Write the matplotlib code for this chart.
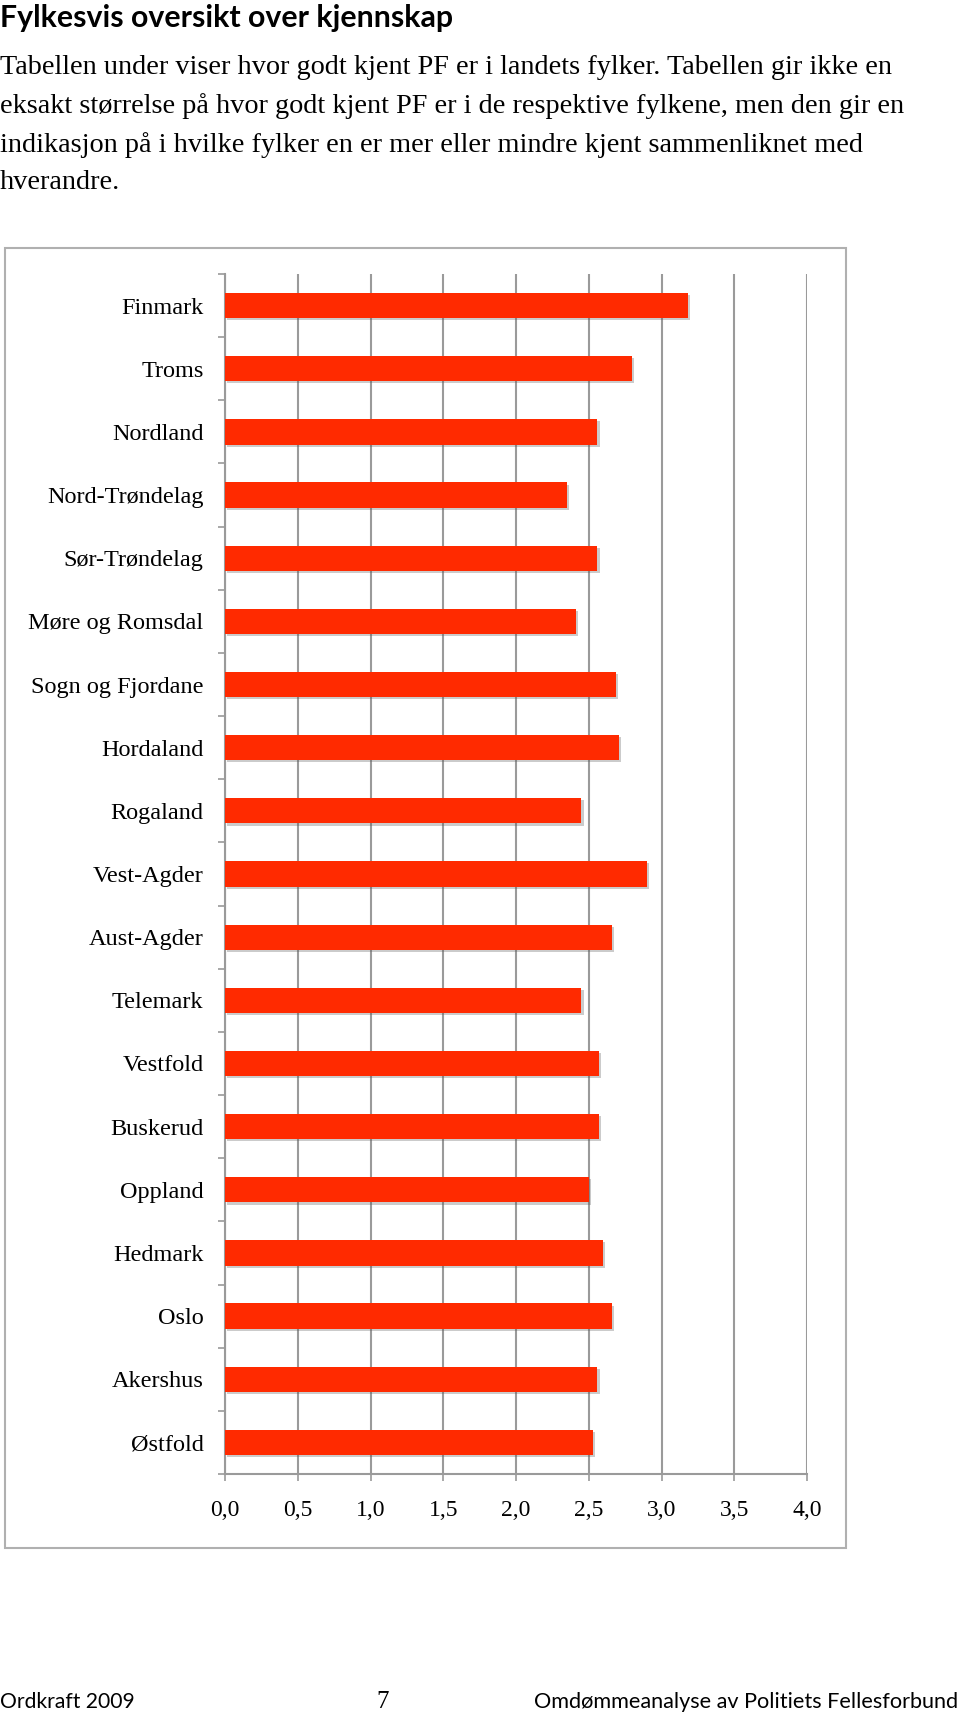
import numpy as np
import matplotlib
matplotlib.use("Agg")
from matplotlib import pyplot as plt
from matplotlib import patheffects
from matplotlib.patches import Rectangle

# data (top to bottom)
fylker = ["Finmark", "Troms", "Nordland", "Nord-Trøndelag", "Sør-Trøndelag",
          "Møre og Romsdal", "Sogn og Fjordane", "Hordaland", "Rogaland",
          "Vest-Agder", "Aust-Agder", "Telemark", "Vestfold", "Buskerud",
          "Oppland", "Hedmark", "Oslo", "Akershus", "Østfold"]
kjennskap = [3.18, 2.80, 2.56, 2.35, 2.56, 2.41, 2.69, 2.71, 2.45,
             2.90, 2.66, 2.45, 2.57, 2.57, 2.50, 2.60, 2.66, 2.56, 2.53]
xticks = [0.0, 0.5, 1.0, 1.5, 2.0, 2.5, 3.0, 3.5, 4.0]
xticklabels = ["0,0", "0,5", "1,0", "1,5", "2,0", "2,5", "3,0", "3,5", "4,0"]

title = "Fylkesvis oversikt over kjennskap"
paragraph = ["Tabellen under viser hvor godt kjent PF er i landets fylker. Tabellen gir ikke en",
             "eksakt størrelse på hvor godt kjent PF er i de respektive fylkene, men den gir en",
             "indikasjon på i hvilke fylker en er mer eller mindre kjent sammenliknet med",
             "hverandre."]

W, H = 960, 1714
serif = ["Liberation Serif", "DejaVu Serif"]
sans = ["Lato", "DejaVu Sans"]
grid_c = "#9a9a9a"
bar_c = "#ff2a00"

fig = plt.figure(figsize=(W / 100, H / 100), dpi=100)

def fx(px):
    return px / W

def fy(py):
    return 1 - py / H

# heading and text
fig.text(fx(0), fy(18), title, fontsize=21.8, fontweight="bold", family=sans,
         ha="left", va="center")
for i, line in enumerate(paragraph):
    fig.text(fx(0), fy(68 + i * 38.3), line, fontsize=20.3, family=serif,
             ha="left", va="center")

# frame round the chart
fig.patches.append(Rectangle((fx(5), fy(1548)), fx(841), 1300 / H,
                             transform=fig.transFigure, fill=False,
                             edgecolor="#b0b0b0", lw=1.5))

ax = fig.add_axes([fx(225), fy(1474), fx(807) - fx(225), (1474 - 274) / H])
y = np.arange(len(fylker))
bars = ax.barh(y, kjennskap, height=0.4, color=bar_c, zorder=3)
for b in bars:
    b.set_path_effects([patheffects.SimplePatchShadow(offset=(1.5, -1.5),
                                                      shadow_rgbFace="#555555",
                                                      alpha=0.3),
                        patheffects.Normal()])

ax.set_xlim(0, 4)
ax.set_ylim(len(fylker) - 0.5, -0.5)
ax.set_xticks(xticks)
ax.set_xticklabels(xticklabels, family=serif, fontsize=17)
ax.set_yticks(y)
ax.set_yticklabels(fylker, family=serif, fontsize=17.5)
ax.set_yticks(np.arange(-0.5, len(fylker)), minor=True)
ax.tick_params(axis="y", which="major", length=0, pad=15.5)
ax.tick_params(axis="y", which="minor", length=5, width=1.2, color=grid_c)
ax.tick_params(axis="x", length=5, width=1.2, color=grid_c, pad=14)
ax.grid(axis="x", color=grid_c, lw=1.5, zorder=0)
ax.set_axisbelow(True)
for s in ["top", "right"]:
    ax.spines[s].set_visible(False)
for s in ["left", "bottom"]:
    ax.spines[s].set_color(grid_c)
    ax.spines[s].set_linewidth(1.5)

# footer
fig.text(fx(0), fy(1702), "Ordkraft 2009", fontsize=15.2, family=sans,
         ha="left", va="center")
fig.text(fx(383), fy(1702), "7", fontsize=18, family=serif,
         ha="center", va="center")
fig.text(fx(958), fy(1702), "Omdømmeanalyse av Politiets Fellesforbund",
         fontsize=15.6, family=sans, ha="right", va="center")

fig.savefig("out.png", dpi=100)
